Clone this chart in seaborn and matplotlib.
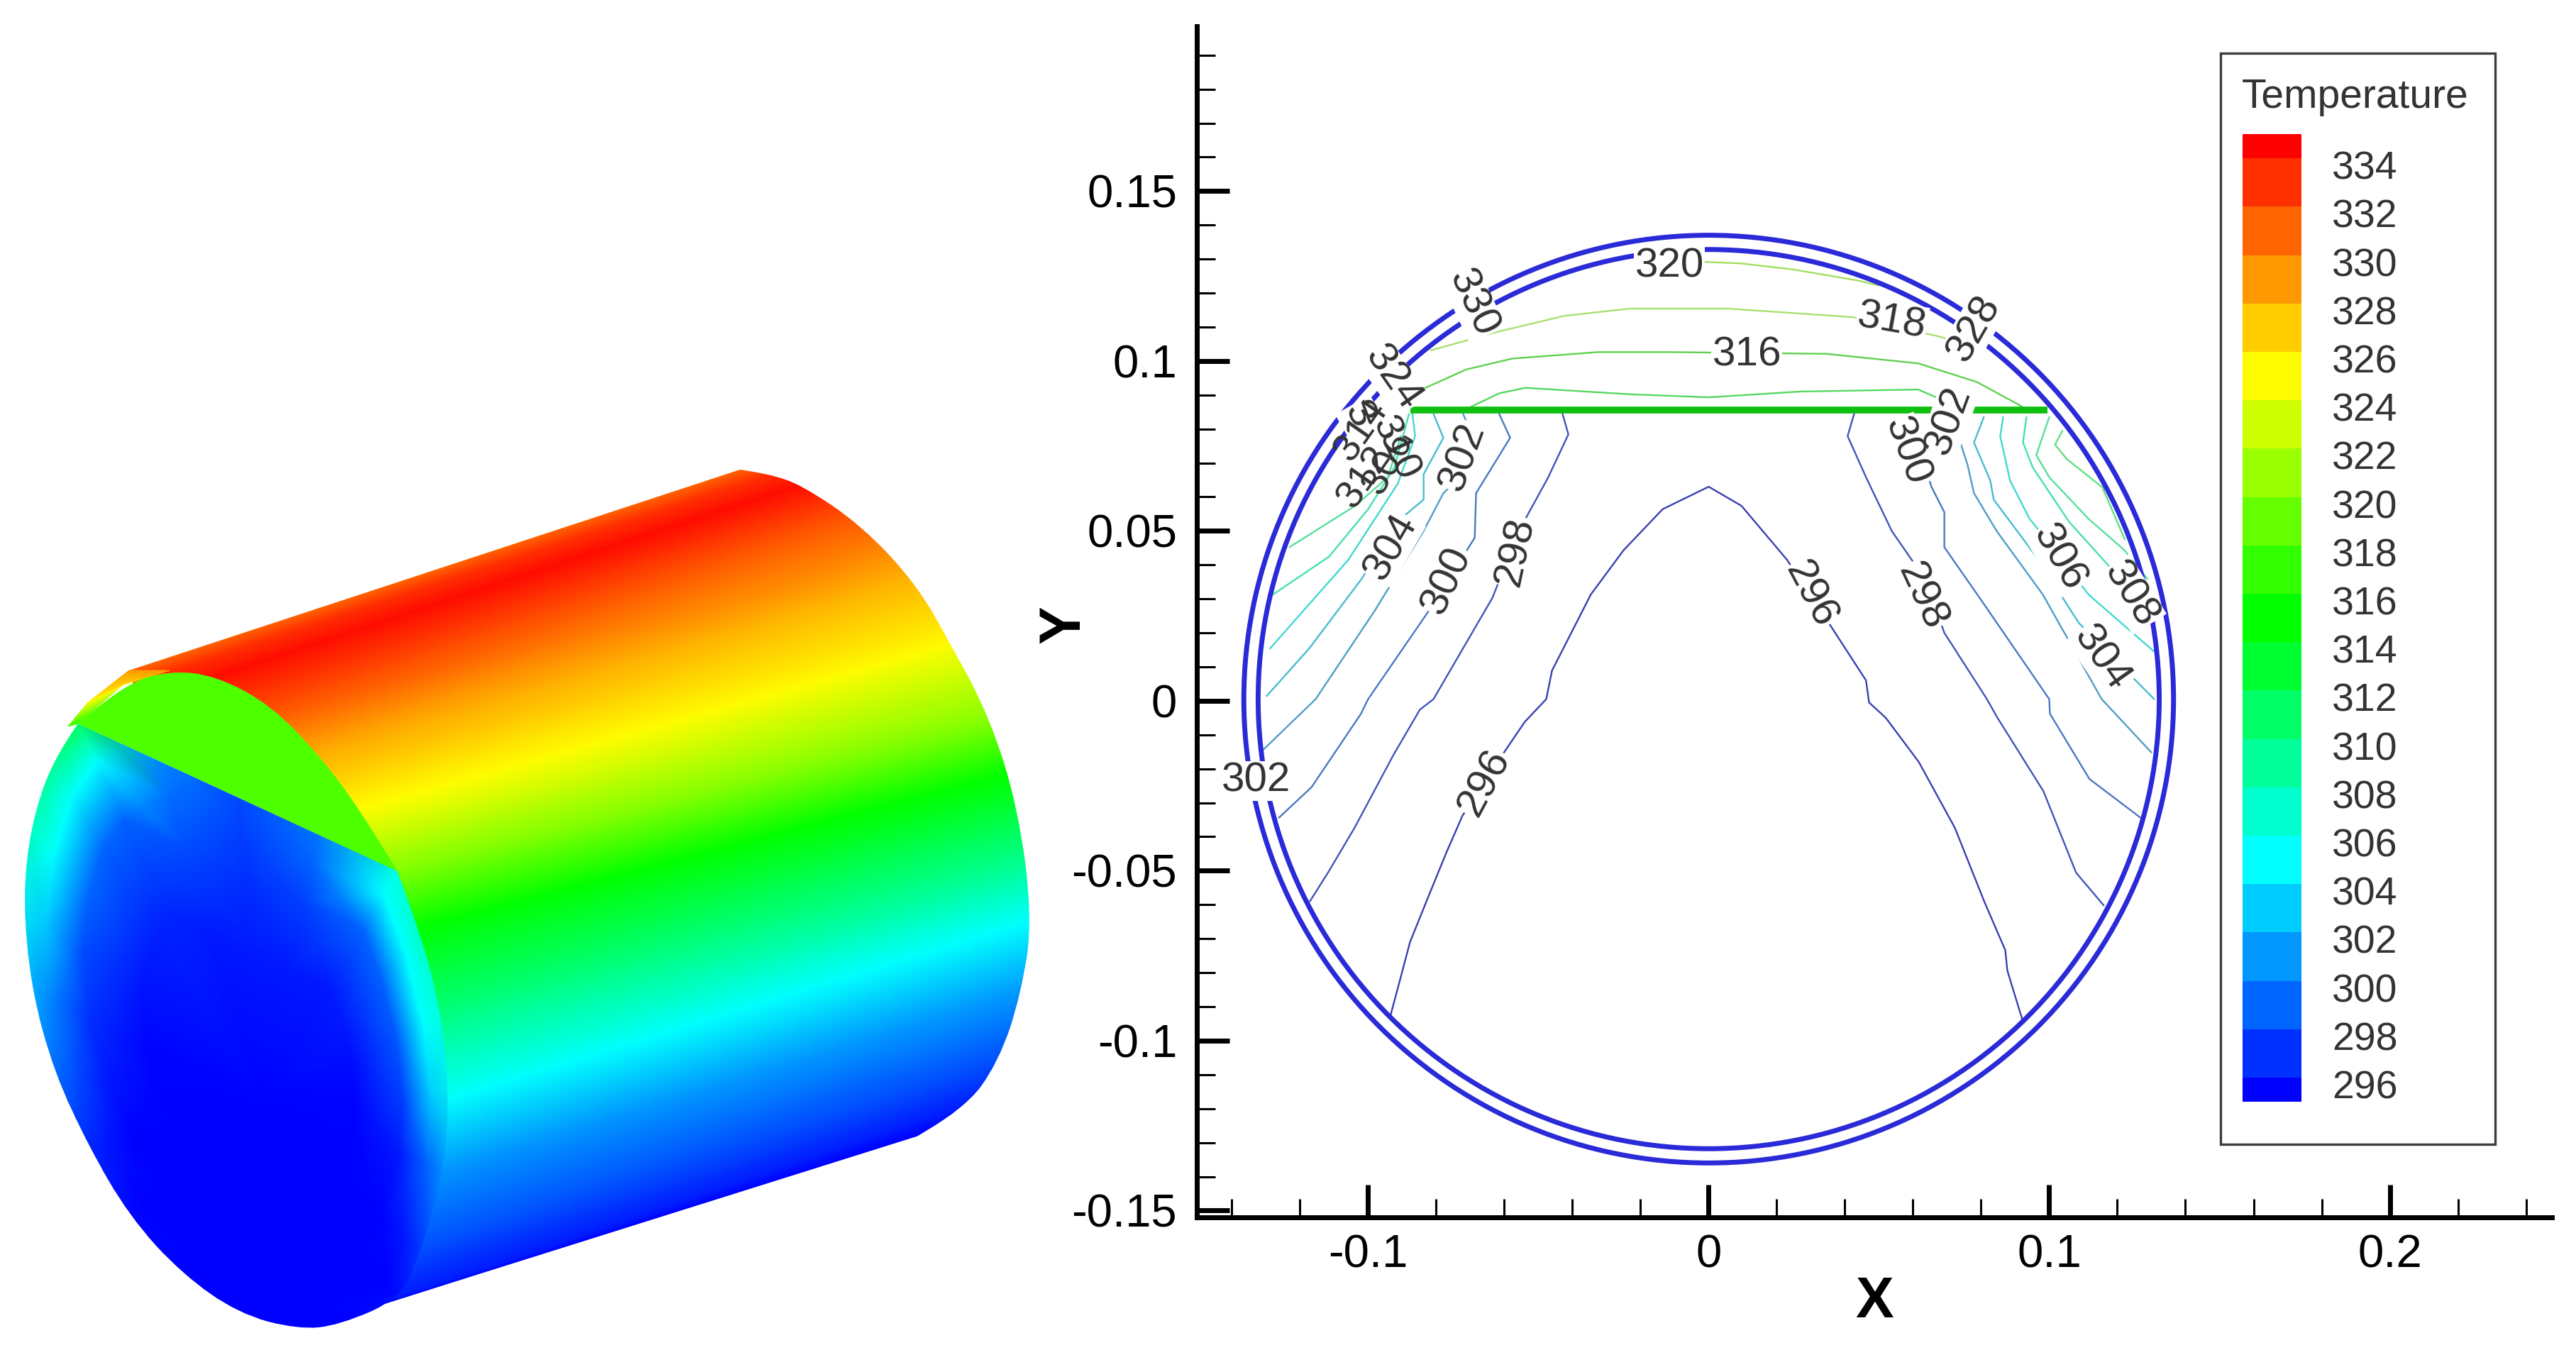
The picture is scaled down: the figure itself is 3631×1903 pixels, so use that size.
import pandas as pd
import seaborn as sns
import matplotlib.pyplot as plt
from matplotlib.colors import LinearSegmentedColormap
from matplotlib.patches import Circle, Rectangle, PathPatch
from matplotlib.path import Path

# ---- legend ----
legend_levels = [336, 334, 332, 330, 328, 326, 324, 322, 320, 318, 316,
                 314, 312, 310, 308, 306, 304, 302, 300, 298, 296]
legend_labels = ['', '334', '332', '330', '328', '326', '324', '322', '320', '318', '316',
                 '314', '312', '310', '308', '306', '304', '302', '300', '298', '296']
rainbow = ['#0000ff', '#00ffff', '#00ff00', '#ffff00', '#ff0000']

# ---- axes ticks ----
x_major = [-0.1, 0, 0.1, 0.2]
x_major_labels = ['-0.1', '0', '0.1', '0.2']
x_minor = [-0.14, -0.12, -0.08, -0.06, -0.04, -0.02, 0.02, 0.04, 0.06, 0.08,
           0.12, 0.14, 0.16, 0.18, 0.22, 0.24]
y_major = [-0.15, -0.1, -0.05, 0, 0.05, 0.1, 0.15]
y_major_labels = ['-0.15', '-0.1', '-0.05', '0', '0.05', '0.1', '0.15']
y_minor = [-0.14, -0.13, -0.12, -0.11, -0.09, -0.08, -0.07, -0.06, -0.04, -0.03, -0.02, -0.01,
           0.01, 0.02, 0.03, 0.04, 0.06, 0.07, 0.08, 0.09, 0.11, 0.12, 0.13, 0.14,
           0.16, 0.17, 0.18, 0.19]

# ---- pipe wall and liquid surface ----
wall_radii = [0.1365, 0.1323]
wall_center_y = 0.0005
surface_x = [-0.0876, 0.0995]
surface_y = [0.0855, 0.0855]

# ---- contour lines, x / y ----
c296_x = [-.0934, -.0896, -.0877, -.0819, -.077, -.0723, -.0597, -.054, -.0477, -.046, -.0346, -.025, -.0135, 0,
          .0096, .023, .0365, .0462, .0471, .052, .0617, .0723, .0809, .0871, .0877, .0921]
c296_y = [-.0925, -.0782, -.071, -.0566, -.0446, -.0338, -.0146, -.0062, .0005, .0089, .0313, .0443, .0564, .063,
          .0574, .0415, .021, .006, -.0005, -.005, -.018, -.0374, -.059, -.0734, -.0794, -.0938]
c298l_x = [-.0429, -.0412, -.0471, -.0558, -.0635, -.0808, -.0848, -.0925, -.104, -.1118, -.1171]
c298l_y = [.0844, .0784, .0658, .0499, .0303, .0005, -.0026, -.0158, -.0374, -.0506, -.059]
c298r_x = [.0427, .0408, .0462, .0538, .0635, .0692, .0817, .0848, .0983, .1079, .116]
c298r_y = [.0844, .0779, .0658, .0499, .0359, .02, .0005, -.005, -.0266, -.0506, -.0602]
c300l_x = [-.0615, -.0583, -.0683, -.0687, -.0808, -.1, -.1021, -.1166, -.1262]
c300l_y = [.0844, .0774, .0611, .048, .0285, .0005, -.0038, -.0254, -.0344]
c300r_x = [.0588, .0654, .0692, .0692, .0808, .1, .1002, .1118, .1268]
c300r_y = [.0844, .063, .0555, .0452, .0285, .0005, -.0038, -.023, -.0344]
c302l_x = [-.0721, -.0668, -.0779, -.0837, -.098, -.1154, -.131]
c302l_y = [.0844, .0718, .0611, .05, .0266, .0005, -.0146]
c302r_x = [.0712, .076, .0779, .0846, .0981, .1154, .13]
c302r_y = [.0844, .0695, .0611, .0499, .0313, .0005, -.0152]
c304l_x = [-.0808, -.0779, -.0837, -.0837, -.0904, -.1019, -.1173, -.1298]
c304l_y = [.0844, .0774, .0667, .0592, .0536, .0359, .0154, .0014]
c304r_x = [.0808, .0779, .0827, .0837, .0962, .1087, .1308]
c304r_y = [.0835, .076, .0648, .0592, .0424, .0229, .0005]
c306l_x = [-.087, -.0862, -.0913, -.1058, -.1288]
c306l_y = [.0844, .0779, .0639, .0415, .0154]
c306r_x = [.0865, .0856, .0885, .0942, .1038, .1115, .1308]
c306r_y = [.0835, .0779, .0648, .0536, .0415, .0313, .0145]
c308l_x = [-.088, -.0923, -.1, -.1115, -.1279]
c308l_y = [.0844, .0686, .0564, .0424, .0313]
c308r_x = [.0933, .0923, .0952, .1058, .1192, .1308]
c308r_y = [.0835, .076, .0686, .0527, .0378, .0238]
c310l_x = [-.0904, -.0942, -.1038, -.1231]
c310l_y = [.0779, .0658, .0574, .0452]
c310r_x = [.1, .0962, .1, .1115, .1221, .1288]
c310r_y = [.0835, .0723, .0658, .0536, .0443, .0359]
c312r_x = [.1039, .1017, .1051, .1156, .1222]
c312r_y = [.0795, .0754, .0712, .0628, .0475]
c314_x = [-.0721, -.0615, -.0538, -.0231, 0, .0269, .0615, .0673, .0788]
c314_y = [.0854, .0905, .0921, .0902, .0893, .091, .0916, .0891, .0854]
c316_x = [-.0856, -.0712, -.0577, -.0327, -.01, .0346, .0615, .0788, .0942]
c316_y = [.091, .0975, .1007, .1026, .1026, .1021, .0993, .0938, .0854]
c318_x = [-.0817, -.0615, -.0423, -.0231, .0058, .0423, .0673, .075]
c318_y = [.1031, .1087, .1133, .1154, .1154, .1129, .1073, .105]
c320_x = [-.002, .0096, .025, .0442, .05]
c320_y = [.1292, .1287, .1269, .1236, .1222]

contour_lines = [
    (296, 'a', c296_x, c296_y),
    (298, 'l', c298l_x, c298l_y), (298, 'r', c298r_x, c298r_y),
    (300, 'l', c300l_x, c300l_y), (300, 'r', c300r_x, c300r_y),
    (302, 'l', c302l_x, c302l_y), (302, 'r', c302r_x, c302r_y),
    (304, 'l', c304l_x, c304l_y), (304, 'r', c304r_x, c304r_y),
    (306, 'l', c306l_x, c306l_y), (306, 'r', c306r_x, c306r_y),
    (308, 'l', c308l_x, c308l_y), (308, 'r', c308r_x, c308r_y),
    (310, 'l', c310l_x, c310l_y), (310, 'r', c310r_x, c310r_y),
    (312, 'r', c312r_x, c312r_y),
    (314, 'a', c314_x, c314_y), (316, 'a', c316_x, c316_y),
    (318, 'a', c318_x, c318_y), (320, 'a', c320_x, c320_y),
]
line_colors = {296: '#3a3fb0', 298: '#3f55b8', 300: '#4a78c0', 302: '#4f9cc8', 304: '#45bcd0',
               306: '#40d8d0', 308: '#45e0b0', 310: '#55e09a', 312: '#60e080', 314: '#55d860',
               316: '#60d050', 318: '#a8e070', 320: '#a0e060'}

# ---- contour labels ----
label_text = ['320', '330', '328', '318', '316', '302', '300', '296', '298', '306', '308', '304',
              '302', '304', '300', '298', '302', '296', '324', '3']
label_x = [-.0115, -.0692, .078, .0538, .0112, .0705, .0582, .0298, .0625, .1029, .124, .1154,
           -.0721, -.0933, -.0769, -.0567, -.133, -.0659, -.0928, -.1028]
label_y = [.1278, .117, .1096, .1116, .1017, .0825, .0733, .0313, .0308, .042, .0313, .0126,
           .0718, .0452, .0354, .0438, -.0236, -.0242, .095, .084]
label_rot = [0, -65, 60, -10, 0, 70, -70, -62, -65, -60, -58, -55,
             70, 60, 65, 78, 0, 62, -55, -60]
cluster_text = ['314', '312', '310', '306']
cluster_x = [-.1018, -.1011, -.092, -.094]
cluster_y = [.0796, .0657, .0741, .07]
cluster_rot = [55, 55, -65, 60]

# ---- 3D view: outer surface, one station per temperature stop ----
side_near_x = [182, 239, 306, 383, 450, 507, 560, 590, 622, 636, 627, 593, 565, 478]
side_near_y = [945, 945, 953, 995, 1065, 1140, 1228, 1307, 1431, 1548, 1647, 1764, 1830, 1858]
side_far_x = [1043, 1085, 1129, 1190, 1280, 1340, 1397, 1425, 1445, 1455, 1440, 1407, 1359, 1292]
side_far_y = [662, 668, 683, 722, 812, 908, 1016, 1090, 1200, 1298, 1398, 1498, 1564, 1602]
side_temp = [332, 334, 335.5, 333, 329, 326, 321, 316, 311, 306, 302, 299, 297, 296]
far_edge_x = [1043, 1085, 1129, 1215, 1292, 1340, 1397, 1435, 1455, 1440, 1407, 1359, 1292]
far_edge_y = [662, 668, 683, 741, 824, 908, 1016, 1140, 1290, 1398, 1498, 1564, 1602]

# sliver of wall left of the green cap
sliver_outer_x = [96, 124, 182]
sliver_outer_y = [1024, 990, 945]
sliver_inner_x = [110, 172, 239]
sliver_inner_y = [1020, 966, 945]
sliver_temp = [318, 326, 330]

# green cap above the liquid surface
cap_x = [110, 172, 239, 306, 383, 450, 507, 560]
cap_y = [1020, 966, 945, 953, 995, 1065, 1140, 1228]
cap_temp = 319

# end face below the surface, rim stations and temperature per ring
face_center = [370, 1560]
face_rim_x = [110, 222, 335, 448, 560, 593, 622, 633, 627, 593, 565, 478, 421, 335, 258, 182, 124, 77, 43, 32, 43, 72, 110]
face_rim_y = [1020, 1072, 1124, 1176, 1228, 1315, 1431, 1539, 1647, 1764, 1830, 1868, 1874, 1851, 1797, 1714, 1614, 1514, 1390, 1265, 1165, 1074, 1020]
ring_fraction = [0, 0.5, 0.75, 0.9, 1.06]
ring0_temp = [296] * 23
ring1_temp = [297.5, 297, 297, 297, 297, 297, 296.5, 296.3, 296, 296, 296, 296, 296, 296, 296, 296, 296, 296, 296.3, 296.7, 297, 297.3, 297.5]
ring2_temp = [300, 299, 298, 298.5, 300, 300, 299.5, 298.5, 297, 296, 296, 296, 296, 296, 296, 296, 296, 297, 298, 299, 300, 300, 300]
ring3_temp = [306, 300.5, 298.5, 300, 306, 306, 306, 304, 300, 297, 296, 296, 296, 296, 296, 296, 297, 299, 301, 304, 306, 306, 306]
ring4_temp = [316, 302, 299, 301, 308, 310, 308, 307, 303, 299, 297, 296, 296, 296, 296, 296.5, 298, 301, 304, 307, 310, 313, 316]

sns.set_style('white')
plt.rcParams['font.family'] = ['Liberation Sans', 'DejaVu Sans']

W, H = 3631, 1903
fig = plt.figure(figsize=(W / 100, H / 100), dpi=100)
temp_cmap = LinearSegmentedColormap.from_list('temp', rainbow)


def px_axes(left, top, right, bottom):
    return fig.add_axes([left / W, 1 - bottom / H, (right - left) / W, (bottom - top) / H])


def curve_through(xs, ys):
    # quadratic spline over the read outline, end points stay fixed
    pts = list(zip(xs, ys))
    verts, codes = [], []
    for i in range(1, len(pts) - 1):
        end = pts[i + 1] if i == len(pts) - 2 else ((pts[i][0] + pts[i + 1][0]) / 2, (pts[i][1] + pts[i + 1][1]) / 2)
        verts += [pts[i], end]
        codes += [Path.CURVE3, Path.CURVE3]
    return verts, codes


# scene axes for the 3D view and the legend frame
scene = fig.add_axes([0, 0, 1, 1])
scene.set_xlim(0, W)
scene.set_ylim(H, 0)
scene.axis('off')

mesh = dict(shading='gouraud', cmap=temp_cmap, vmin=296, vmax=336)

side_x = [[n - 0.12 * (f - n), f + 0.15 * (f - n)] for n, f in zip(side_near_x, side_far_x)]
side_y = [[n - 0.12 * (f - n), f + 0.15 * (f - n)] for n, f in zip(side_near_y, side_far_y)]
side_mesh = scene.pcolormesh(side_x, side_y, [[t, t] for t in side_temp], **mesh)
v, c = curve_through(far_edge_x, far_edge_y)
side_clip = Path([(side_near_x[0], side_near_y[0]), (far_edge_x[0], far_edge_y[0])] + v +
                 [(side_near_x[-1], side_near_y[-1]), (side_near_x[0], side_near_y[0])],
                 [Path.MOVETO, Path.LINETO] + c + [Path.LINETO, Path.CLOSEPOLY])
side_mesh.set_clip_path(side_clip, transform=scene.transData)

scene.pcolormesh([[a, b] for a, b in zip(sliver_outer_x, sliver_inner_x)],
                 [[a, b] for a, b in zip(sliver_outer_y, sliver_inner_y)],
                 [[t, t] for t in sliver_temp], **mesh)

v, c = curve_through(cap_x, cap_y)
cap_path = Path([(cap_x[0], cap_y[0])] + v + [(cap_x[0], cap_y[0])], [Path.MOVETO] + c + [Path.CLOSEPOLY])
scene.add_patch(PathPatch(cap_path, fc=temp_cmap((cap_temp - 296) / 40), ec='none'))

face_x = [[face_center[0] + f * (rx - face_center[0]) for f in ring_fraction] for rx in face_rim_x]
face_y = [[face_center[1] + f * (ry - face_center[1]) for f in ring_fraction] for ry in face_rim_y]
face_t = [list(r) for r in zip(ring0_temp, ring1_temp, ring2_temp, ring3_temp, ring4_temp)]
face_mesh = scene.pcolormesh(face_x, face_y, face_t, **mesh)
v, c = curve_through(face_rim_x[4:], face_rim_y[4:])
face_clip = Path([(face_rim_x[0], face_rim_y[0]), (face_rim_x[4], face_rim_y[4])] + v + [(face_rim_x[0], face_rim_y[0])],
                 [Path.MOVETO, Path.LINETO] + c + [Path.CLOSEPOLY])
face_mesh.set_clip_path(face_clip, transform=scene.transData)

scene.add_patch(Rectangle((3130, 75), 387, 1538, fill=False, ec='#3c3c3c', lw=2.4))
scene.text(3160, 137, 'Temperature', fontsize=41, color='#333333', ha='left', va='center')

# contour plot
ax = px_axes(1687, 37, 3597, 1716)
ax.patch.set_alpha(0)
rows = []
for level, side, xs, ys in contour_lines:
    for a, b in zip(xs, ys):
        rows.append({'x': a, 'y': b, 'level': level, 'line': f'{level}{side}'})
contours = pd.DataFrame(rows)
sns.lineplot(data=contours, x='x', y='y', hue='level', units='line', estimator=None, sort=False,
             palette=line_colors, linewidth=1.7, legend=False, ax=ax)
ax.plot(surface_x, surface_y, color='#10c010', lw=7, solid_capstyle='butt', zorder=3)
for r in wall_radii:
    ax.add_patch(Circle((0, wall_center_y), r, fill=False, ec='#2a2ad8', lw=5, zorder=3))

ax.set_xlim(-0.1503, 0.2476)
ax.set_ylim(-0.152, 0.1985)
ax.set_xticks(x_major, x_major_labels)
ax.set_yticks(y_major, y_major_labels)
ax.set_xticks(x_minor, minor=True)
ax.set_yticks(y_minor, minor=True)
ax.tick_params(which='major', direction='in', length=33, width=5, color='k', labelcolor='k', labelsize=47)
ax.tick_params(which='minor', direction='in', length=19, width=2.2, color='k')
ax.tick_params(axis='x', which='major', pad=17)
ax.tick_params(axis='y', which='major', pad=20)
ax.tick_params(left=True, bottom=True, which='both')
for s in ['top', 'right']:
    ax.spines[s].set_visible(False)
for s in ['left', 'bottom']:
    ax.spines[s].set_color('k')
    ax.spines[s].set_linewidth(5)
ax.set_xlabel('X', fontsize=58, fontweight='bold', color='k', va='center')
ax.set_ylabel('Y', fontsize=58, fontweight='bold', color='k', va='center')
ax.xaxis.set_label_coords(0.5, -0.0715)
ax.yaxis.set_label_coords(-0.0974, 0.498)

for t, a, b, r in zip(label_text, label_x, label_y, label_rot):
    ax.text(a, b, t, rotation=r, rotation_mode='anchor', ha='center', va='center', fontsize=42,
            color='#333333', zorder=5, bbox=dict(fc='white', ec='none', pad=1))
for t, a, b, r in zip(cluster_text, cluster_x, cluster_y, cluster_rot):
    ax.text(a, b, t, rotation=r, rotation_mode='anchor', ha='center', va='center', fontsize=40,
            color='#333333', zorder=6)

# legend colour bar
cbar_ax = px_axes(3161, 189, 3244, 1553)
legend_table = pd.DataFrame({'level': legend_levels})
sns.heatmap(legend_table, cmap=temp_cmap, vmin=296, vmax=336, cbar=False, ax=cbar_ax,
            xticklabels=False, yticklabels=False)
cbar_ax.set_ylim(20.5, 0.5)
cbar_ax.set_ylabel('')
cbar_ax.yaxis.tick_right()
cbar_ax.set_yticks([i + 0.14 for i in range(1, len(legend_levels))], legend_labels[1:], rotation=0)
cbar_ax.tick_params(axis='y', length=0, pad=31, labelsize=40, labelcolor='#333333')

fig.savefig('out.png', dpi=100)
